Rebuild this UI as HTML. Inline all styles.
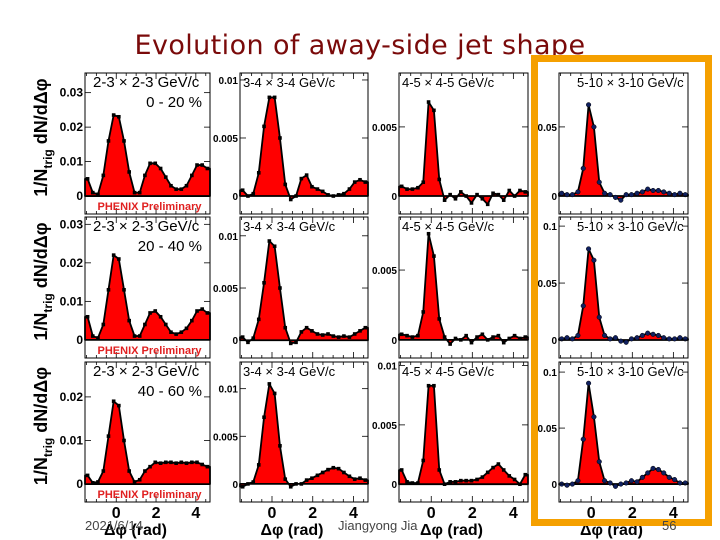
<!DOCTYPE html>
<html><head><meta charset="utf-8">
<style>
html,body{margin:0;padding:0;background:#fff;}
svg{display:block;}
text{font-family:"Liberation Sans",sans-serif;}
</style></head>
<body>
<svg id="chart" width="720" height="540" viewBox="0 0 720 540" xmlns="http://www.w3.org/2000/svg">
<text x="360" y="54" text-anchor="middle" font-size="27" letter-spacing="0.4" fill="#7a0a0a" style="font-family:'DejaVu Sans',sans-serif">Evolution of away-side jet shape</text>
<g id="panels"></g>
<rect x="534.5" y="58.5" width="174" height="464" fill="none" stroke="#f5a000" stroke-width="7"/>
<text x="85" y="530" font-size="13" fill="#444">2021/6/14</text>
<text x="338" y="530" font-size="13" fill="#444">Jiangyong Jia</text>
<text x="662" y="530" font-size="13" fill="#444">56</text>
</svg>
<script>
const binCenters = [-1.44,-1.18,-0.92,-0.65,-0.39,-0.13,0.13,0.39,0.65,0.92,1.18,1.44,1.70,1.96,2.23,2.49,2.75,3.01,3.27,3.53,3.80,4.06,4.32,4.58];
const r1c1 = [0.005,0.001,0.0005,0.006,0.016,0.0235,0.023,0.016,0.007,0.001,0.001,0.006,0.0095,0.0095,0.008,0.0055,0.003,0.002,0.002,0.003,0.006,0.009,0.009,0.008];
const r1c2 = [0.0005,0,0.0002,0.002,0.006,0.0085,0.0085,0.005,0.001,-0.0003,0,0.0015,0.0018,0.0008,0.0006,0.0004,0.0001,0,0.0001,0.0002,0.0006,0.0012,0.0014,0.0012];
const r1c3 = [0.0007,0.0005,0.0005,0.0006,0.001,0.0068,0.0062,0.0012,-0.0003,0.0001,-0.0002,0.0003,0,-0.0005,0.0001,-0.0002,-0.0006,0.0002,0.0001,-0.0003,0.0004,0,0.0004,0.0003];
const r1c4 = [0.002,0.001,0.001,0.003,0.02,0.066,0.05,0.01,0.002,0.001,-0.001,-0.003,0.001,0.001,0.002,0.003,0.005,0.004,0.004,0.003,0.002,0.001,0.002,0.001];
const r2c1 = [0.006,0.001,0.0005,0.004,0.013,0.022,0.021,0.013,0.005,0.001,0.001,0.004,0.007,0.0075,0.006,0.004,0.002,0.0015,0.002,0.003,0.005,0.0075,0.008,0.007];
const r2c2 = [0.0003,-0.0002,0.0002,0.002,0.0055,0.0095,0.009,0.005,0.0012,-0.0003,-0.0002,0.0008,0.0012,0.0009,0.0006,0.0005,0.0006,0.0004,0.0003,0.0004,0.0003,0.0006,0.0009,0.0012];
const r2c3 = [0.0004,0.0003,0.0002,0.0003,0.002,0.0076,0.006,0.0015,0.0002,-0.0003,0.0001,0,0.0003,-0.0002,0.0002,0.0004,0,0.0002,0.0003,-0.0002,0.0001,0.0003,0.0001,0.0002];
const r2c4 = [0.001,0.002,0.001,0.004,0.03,0.08,0.07,0.02,0.004,0.001,0.002,-0.001,-0.002,0.001,0.002,0.004,0.006,0.005,0.004,0.002,0.001,0.001,0.002,0.001];
const r3c1 = [0.002,0.0003,0.0005,0.003,0.011,0.019,0.018,0.01,0.003,0.0005,0.001,0.003,0.004,0.005,0.0048,0.005,0.005,0.0048,0.005,0.0048,0.005,0.005,0.0045,0.004];
const r3c2 = [-0.0003,0,0.0002,0.002,0.007,0.0105,0.0095,0.004,0.0005,-0.0003,0,0,0.0004,0.0006,0.0009,0.0012,0.0015,0.0017,0.0016,0.0012,0.0008,0.0005,0.0006,0.0004];
const r3c3 = [0.0012,0.0002,0.0001,0.0001,0.002,0.0083,0.0083,0.0012,0,0.0002,0.0002,0.0003,0.0003,0.0003,0.0004,0.0006,0.001,0.0014,0.0017,0.0012,0.0007,0.0004,0,0.0008];
const r3c4 = [0,-0.001,0,0.003,0.04,0.09,0.06,0.02,0.003,0.001,-0.002,0,0.001,0.003,0.002,0.006,0.01,0.014,0.013,0.01,0.006,0.004,0.001,0.001];
const seriesGrid = [[r1c1,r1c2,r1c3,r1c4],[r2c1,r2c2,r2c3,r2c4],[r3c1,r3c2,r3c3,r3c4]];
const yDomains = [
 [[-0.0052,0.0357],[-0.00155,0.0106],[-0.0013,0.0089],[-0.013,0.089]],
 [[-0.0047,0.0319],[-0.0017,0.0118],[-0.0013,0.0088],[-0.0158,0.108]],
 [[-0.0041,0.028],[-0.0019,0.0128],[-0.0015,0.0103],[-0.016,0.109]]];
const yTickVals = [
 [[0,0.01,0.02,0.03],[0,0.005,0.01],[0,0.005],[0,0.05]],
 [[0,0.01,0.02,0.03],[0,0.005,0.01],[0,0.005],[0,0.05,0.1]],
 [[0,0.01,0.02],[0,0.005,0.01],[0,0.005,0.01],[0,0.05,0.1]]];
const yTickLabels = [
 [["0","0.01","0.02","0.03"],["0","0.005","0.01"],["0","0.005"],["0","0.05"]],
 [["0","0.01","0.02","0.03"],["0","0.005","0.01"],["0","0.005"],["0","0.05","0.1"]],
 [["0","0.01","0.02"],["0","0.005","0.01"],["0","0.005","0.01"],["0","0.05","0.1"]]];
const ptLabels = ["2-3 \u00d7 2-3 GeV/c","3-4 \u00d7 3-4 GeV/c","4-5 \u00d7 4-5 GeV/c","5-10 \u00d7 3-10 GeV/c"];
const centLabels = ["0 - 20 %","20 - 40 %","40 - 60 %"];
const xTickVals = [0,2,4];
const xTickLabels = ["0","2","4"];

const NS = "http://www.w3.org/2000/svg";
const root = document.getElementById("panels");
const colX = [85,240,399,559], colW = [125,128,129,129];
const rowTop = [73,217,362], rowBot = [214,358,502];
const X0 = -Math.PI/2, X1 = 3*Math.PI/2;
function mk(tag, attrs, parent){ const e=document.createElementNS(NS,tag); for(const k in attrs) e.setAttribute(k,attrs[k]); (parent||root).appendChild(e); return e; }

for(let r=0;r<3;r++){ for(let c=0;c<4;c++){
  const g = mk("g",{});
  
  
  const L=colX[c], W=colW[c], T=rowTop[r], B=rowBot[r];
  const [y0,y1]=yDomains[r][c];
  const xs = v => L + (v-X0)/(X1-X0)*W;
  const ys = v => B - (v-y0)/(y1-y0)*(B-T);
  const data = seriesGrid[r][c];
  const zy = ys(0);
  let d = "M"+xs(X0)+","+zy+" L"+xs(X0)+","+ys(data[0]);
  data.forEach((v,i)=>{ d+=" L"+xs(binCenters[i])+","+ys(v); });
  d += " L"+xs(X1)+","+ys(data[data.length-1])+" L"+xs(X1)+","+zy+" Z";
  const fill = mk("path",{d:d,fill:"#ff0000",stroke:"#000","stroke-width":"1.8","stroke-linejoin":"round"},g);
  
  
  const zl = mk("line",{x1:L,x2:L+W,y1:zy,y2:zy,stroke:"#000","stroke-width":"0.8"},g);
  
  
  data.forEach((v,i)=>{
    const px=xs(binCenters[i]), py=ys(v);
    const m = (c===3) ? mk("circle",{cx:px,cy:py,r:2.3,fill:"#102060",stroke:"#000","stroke-width":"0.5"},g)
                      : mk("rect",{x:px-1.8,y:py-1.8,width:3.6,height:3.6,fill:"#000"},g);
    
    
  });
  const fr = mk("rect",{x:L,y:T,width:W,height:B-T,fill:"none",stroke:"#000","stroke-width":"1"},g);
  
  
  for(let t=-1.5;t<=4.5;t+=0.5){
    const len = (Math.abs(t-Math.round(t/2)*2)<1e-6)?6:3;
    mk("line",{x1:xs(t),x2:xs(t),y1:B,y2:B-len,stroke:"#000","stroke-width":"0.8"},g);
    mk("line",{x1:xs(t),x2:xs(t),y1:T,y2:T+len,stroke:"#000","stroke-width":"0.8"},g);
  }
  if(r===2){ xTickVals.forEach((v,i)=>{
    const tl = mk("text",{x:xs(v),y:518,"text-anchor":"middle","font-size":"16","font-weight":"bold"},g);
    tl.textContent = xTickLabels[i];
    
    
  });
    const xt = mk("text",{x:L+W/2-12,y:535,"text-anchor":"middle","font-size":"16","font-weight":"bold"},g);
    xt.textContent = "\u0394\u03c6 (rad)";
    
    
  }
  yTickVals[r][c].forEach((v,i)=>{
    const py=ys(v);
    mk("line",{x1:L,x2:L+6,y1:py,y2:py,stroke:"#000","stroke-width":"0.8"},g);
    mk("line",{x1:L+W,x2:L+W-6,y1:py,y2:py,stroke:"#000","stroke-width":"0.8"},g);
    const yl = mk("text",{x:L-2,y:py+4,"text-anchor":"end","font-size":c===0?"12":"10","font-weight":"bold"},g);
    yl.textContent = yTickLabels[r][c][i];
    
    
  });
  const pl = mk("text",{x:L+(c===3?18:c===0?8:3),y:T+14,"font-size":c===0?"15":"13"},g);
  pl.textContent = ptLabels[c];
  
  
  if(c===0){
    const cl = mk("text",{x:L+W-8,y:T+34,"text-anchor":"end","font-size":"15"},g);
    cl.textContent = centLabels[r];
    
    
    const ph = mk("text",{x:L+W/2+2,y:B-4,"text-anchor":"middle","font-size":"11","font-weight":"bold",fill:"#e02020"},g);
    ph.textContent = "PHENIX Preliminary";
    
    
    const yt = mk("text",{x:0,y:0,"text-anchor":"middle","font-size":"18","font-weight":"bold",transform:"translate(47,"+((T+B)/2-6)+") rotate(-90)"},g);
    yt.innerHTML = '1/N<tspan font-size="12" dy="5">trig</tspan><tspan dy="-5"> dN/d\u0394\u03c6</tspan>';
    
    
  }
}}
</script>
</body></html>
